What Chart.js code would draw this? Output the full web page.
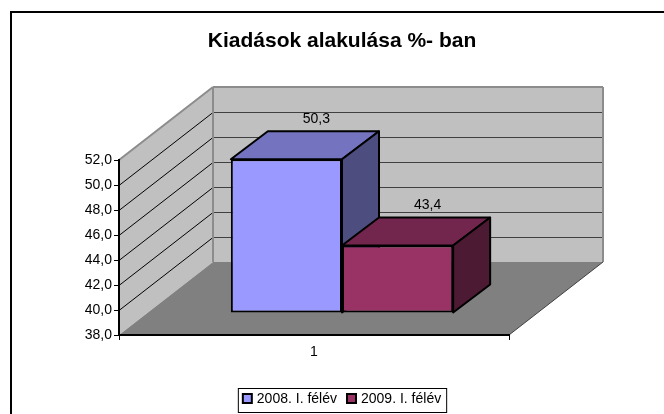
<!DOCTYPE html>
<html>
<head>
<meta charset="utf-8">
<script src="https://cdn.jsdelivr.net/npm/chart.js@4.4.1/dist/chart.umd.min.js"></script>
<style>
  html, body { margin: 0; padding: 0; background: #fff; overflow: hidden; }
  #wrap { width: 664px; height: 414px; }
</style>
</head>
<body>
<div id="wrap"><canvas id="chart"></canvas></div>
<script>
// data
const categories = ['1'];
const seriesNames = ['2008. I. félév', '2009. I. félév'];
const values2008 = [50.3];
const values2009 = [43.4];
const yTicks = [38, 40, 42, 44, 46, 48, 50, 52];
const chartTitle = 'Kiadások alakulása %- ban';

const FONT = "'Liberation Sans', Arial, sans-serif";
const frontColors = ['#9999ff', '#993366'];
const topColors = ['#7373bf', '#73264d'];
const sideColors = ['#4d4d80', '#4d1a33'];

// 3D look: depth of the walls and of the bars
const WALL_DX = 94, WALL_DY = -73;
const BAR_SHIFT_X = 28, BAR_SHIFT_Y = -22;
const BAR_DX = 37, BAR_DY = -28;

const fmt = v => v.toFixed(1).replace('.', ',');

function poly(ctx, pts, fill, stroke, lw) {
  ctx.beginPath();
  ctx.moveTo(pts[0][0], pts[0][1]);
  for (let i = 1; i < pts.length; i++) ctx.lineTo(pts[i][0], pts[i][1]);
  ctx.closePath();
  if (fill) { ctx.fillStyle = fill; ctx.fill(); }
  if (stroke) { ctx.strokeStyle = stroke; ctx.lineWidth = lw || 1; ctx.stroke(); }
}

function line(ctx, x1, y1, x2, y2, color, lw) {
  ctx.beginPath();
  ctx.moveTo(x1, y1);
  ctx.lineTo(x2, y2);
  ctx.strokeStyle = color;
  ctx.lineWidth = lw;
  ctx.stroke();
}

const walls = {
  id: 'walls',
  beforeDraw(chart) {
    const { ctx, chartArea: a, scales: { y } } = chart;
    const L = a.left, R = a.right, T = a.top, B = a.bottom;
    ctx.save();
    ctx.lineJoin = 'round';
    // side wall, back wall, floor
    poly(ctx, [[L, T], [L, B], [L + WALL_DX, B + WALL_DY], [L + WALL_DX, T + WALL_DY]], '#c0c0c0');
    poly(ctx, [[L + WALL_DX, T + WALL_DY], [R + WALL_DX, T + WALL_DY], [R + WALL_DX, B + WALL_DY], [L + WALL_DX, B + WALL_DY]], '#c0c0c0');
    poly(ctx, [[L, B], [R, B], [R + WALL_DX, B + WALL_DY], [L + WALL_DX, B + WALL_DY]], '#808080');
    // gridlines
    yTicks.slice(1, -1).forEach(v => {
      const py = Math.round(y.getPixelForValue(v)) + 0.5;
      line(ctx, L, py, L + WALL_DX, py + WALL_DY, '#000', 1);
      line(ctx, L + WALL_DX, py + WALL_DY, R + WALL_DX, py + WALL_DY, '#404040', 1);
    });
    // wall edges
    const g = '#8c8c8c';
    line(ctx, L, T, L + WALL_DX, T + WALL_DY, g, 2);
    line(ctx, L + WALL_DX, T + WALL_DY, R + WALL_DX, T + WALL_DY, g, 2);
    line(ctx, R + WALL_DX, T + WALL_DY, R + WALL_DX, B + WALL_DY, g, 2);
    line(ctx, L + WALL_DX, T + WALL_DY, L + WALL_DX, B + WALL_DY, g, 2);
    line(ctx, R, B, R + WALL_DX, B + WALL_DY, '#404040', 1);
    ctx.restore();
  }
};

const bars3d = {
  id: 'bars3d',
  // the bars are drawn below, front to back per series, so skip the default pass
  beforeDatasetDraw() {
    return false;
  },
  afterDatasetsDraw(chart) {
    const ctx = chart.ctx;
    ctx.save();
    ctx.translate(BAR_SHIFT_X, BAR_SHIFT_Y);
    ctx.lineJoin = 'round';
    chart.data.datasets.forEach((ds, i) => {
      chart.getDatasetMeta(i).data.forEach(el => {
        const { x, y, base, width } = el.getProps(['x', 'y', 'base', 'width'], true);
        const x1 = x - width / 2, x2 = x + width / 2;
        el.draw(ctx);
        poly(ctx, [[x1, y], [x2, y], [x2 + BAR_DX, y + BAR_DY], [x1 + BAR_DX, y + BAR_DY]], topColors[i], '#000', 2);
        poly(ctx, [[x2, y], [x2 + BAR_DX, y + BAR_DY], [x2 + BAR_DX, base + BAR_DY], [x2, base]], sideColors[i], '#000', 2);
      });
    });
    ctx.restore();
  },
  afterDraw(chart) {
    const ctx = chart.ctx;
    ctx.save();
    // value labels
    ctx.font = '14px ' + FONT;
    ctx.fillStyle = '#000';
    ctx.textAlign = 'center';
    ctx.textBaseline = 'middle';
    chart.data.datasets.forEach((ds, i) => {
      chart.getDatasetMeta(i).data.forEach((el, j) => {
        const { x, y } = el.getProps(['x', 'y'], true);
        ctx.fillText(fmt(ds.data[j]), x + BAR_SHIFT_X + 30, y + BAR_SHIFT_Y + BAR_DY - 12);
      });
    });
    // title
    ctx.font = 'bold 21px ' + FONT;
    ctx.fillText(chartTitle, 342, 41);
    // legend
    ctx.font = '14px ' + FONT;
    ctx.textAlign = 'left';
    const widths = seriesNames.map(s => ctx.measureText(s).width);
    const itemW = widths.map(w => 9 + 5 + w);
    const total = itemW[0] + itemW[1] + 10;
    const bx = 342 - total / 2 - 5, by = 388, bw = total + 10, bh = 24;
    ctx.fillStyle = '#fff';
    ctx.fillRect(bx, by, bw, bh);
    ctx.strokeStyle = '#000';
    ctx.lineWidth = 1;
    ctx.strokeRect(bx + 0.5, by + 0.5, bw, bh);
    let lx = bx + 5;
    seriesNames.forEach((s, i) => {
      ctx.fillStyle = frontColors[i];
      ctx.fillRect(lx, 394, 9, 9);
      ctx.lineWidth = 2;
      ctx.strokeRect(lx, 394, 9, 9);
      ctx.fillStyle = '#000';
      ctx.fillText(s, lx + 14, 399);
      lx += itemW[i] + 10;
    });
    // outer frame (right and bottom sides fall outside the picture)
    ctx.lineWidth = 2;
    ctx.strokeStyle = '#000';
    ctx.beginPath();
    ctx.moveTo(11, 420);
    ctx.lineTo(11, 12);
    ctx.lineTo(670, 12);
    ctx.stroke();
    ctx.restore();
  }
};

new Chart(document.getElementById('chart'), {
  type: 'bar',
  data: {
    labels: categories,
    datasets: [
      { label: seriesNames[0], data: values2008, backgroundColor: frontColors[0] },
      { label: seriesNames[1], data: values2009, backgroundColor: frontColors[1] }
    ]
  },
  options: {
    responsive: true,
    maintainAspectRatio: false,
    animation: false,
    layout: { padding: { left: 20, top: 160, right: 155, bottom: 49 } },
    datasets: {
      bar: {
        base: 38,
        borderColor: '#000',
        borderWidth: 2,
        borderSkipped: false,
        barPercentage: 1,
        categoryPercentage: 0.57,
        clip: false
      }
    },
    plugins: { legend: { display: false }, title: { display: false }, tooltip: { enabled: false } },
    scales: {
      x: {
        afterFit: s => { s.height = 30; },
        grid: { drawOnChartArea: false, tickLength: 5, color: '#000' },
        border: { color: '#000', width: 2 },
        ticks: { color: '#000', font: { family: FONT, size: 14 }, padding: 4 }
      },
      y: {
        min: 38,
        max: 52,
        afterFit: s => { s.width = 99; },
        afterBuildTicks: s => { s.ticks = yTicks.map(v => ({ value: v })); },
        grid: { drawOnChartArea: false, tickLength: 5, color: '#000' },
        border: { color: '#000', width: 2 },
        ticks: { color: '#000', font: { family: FONT, size: 14 }, padding: 2, callback: v => fmt(v) }
      }
    }
  },
  plugins: [walls, bars3d]
});
</script>
</body>
</html>
